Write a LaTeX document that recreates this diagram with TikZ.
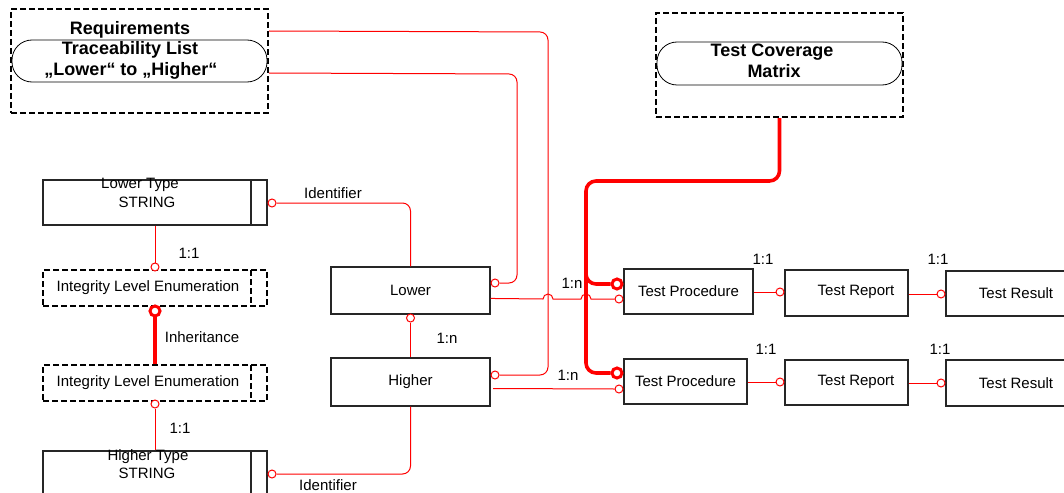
\documentclass[tikz,border=0pt]{standalone}
\usepackage{fontspec}
\setmainfont{Liberation Sans}
\begin{document}
\begin{tikzpicture}[x=1pt,y=-1pt,
  entity/.style={draw=black!85, line width=1.1pt, fill=white, inner sep=0pt},
  dashbox/.style={draw=black, line width=2pt, dash pattern=on 6pt off 3pt, inner sep=0pt},
  pill/.style={draw=black, line width=0.8pt, fill=white, rounded corners=20pt, inner sep=0pt},
  txt/.style={inner sep=0pt, font=\fontsize{15}{18}\selectfont},
  title/.style={inner sep=0pt, font=\fontsize{18}{20}\selectfont\bfseries},
  rel/.style={draw=red, line width=1pt},
  heavyrel/.style={draw=red, line width=3.6pt},
  ocirc/.style={circle, draw=red, line width=1pt, fill=white, minimum size=8pt, inner sep=0pt},
  bigcirc/.style={circle, draw=red, line width=3pt, fill=white, minimum size=10pt, inner sep=0pt}
]
\useasboundingbox (0,0) rectangle (1064,492);
\clip (0,0) rectangle (1064,492);

% ---- document containers ----
\node[dashbox, minimum width=257pt, minimum height=104pt] (req) at (139.5,61) {};
\node[pill, minimum width=255pt, minimum height=42pt] (reqpill) at (139.5,61) {};
\node[title] (reqt1) at (130,30) {Requirements};
\node[title] (reqt2) at (130,49.5) {Traceability List};
\node[title] (reqt3) at (131,71) {„Lower“ to „Higher“};

\node[dashbox, minimum width=247pt, minimum height=104pt] (tcm) at (779.5,65) {};
\node[pill, minimum width=245pt, minimum height=43pt] (tcmpill) at (779.5,63.5) {};
\node[title] (tcmt1) at (772,52) {Test Coverage};
\node[title] (tcmt2) at (774,71) {Matrix};

% ---- type entities ----
\node[entity, minimum width=224pt, minimum height=45pt] (lowertype) at (155,202.5) {};
\draw[line width=1.1pt, black!85] (251,180) -- (251,225);
\node[txt] (ltt1) at (140,185) {Lower Type};
\node[txt] (ltt2) at (147,202) {STRING};

\node[dashbox, minimum width=224pt, minimum height=36pt] (ile1) at (155,288) {};
\draw[dashbox] (251,270) -- (251,306);
\node[txt] (ile1t) at (148,288) {Integrity Level Enumeration};

\node[dashbox, minimum width=224pt, minimum height=36pt] (ile2) at (155,383) {};
\draw[dashbox] (251,365) -- (251,401);
\node[txt] (ile2t) at (148,383) {Integrity Level Enumeration};

\node[entity, minimum width=224pt, minimum height=69pt] (highertype) at (155,485.5) {};
\draw[line width=1.1pt, black!85] (251,451) -- (251,520);
\node[txt] (htt1) at (148,457) {Higher Type};
\node[txt] (htt2) at (147,473) {STRING};

% ---- requirement entities ----
\node[entity, txt, minimum width=159pt, minimum height=47pt] (lower) at (410.5,290.5) {Lower};
\node[entity, txt, minimum width=159pt, minimum height=48pt] (higher) at (410.5,382) {Higher};

% ---- test entities ----
\node[entity, txt, minimum width=129pt, minimum height=45pt] (tp1) at (688.5,291.5) {Test Procedure};
\node[entity, txt, minimum width=123pt, minimum height=45pt] (tp2) at (685.5,381.5) {Test Procedure};
\node[entity, minimum width=123pt, minimum height=46pt] (tr1) at (846.5,293) {};
\node[txt] (tr1t) at (856,292) {Test Report};
\node[entity, minimum width=123pt, minimum height=45pt] (tr2) at (846.5,382.5) {};
\node[txt] (tr2t) at (856,382) {Test Report};
\node[entity, txt, minimum width=134pt, minimum height=45pt] (tres1) at (1013,293.5) {};
\node[txt] (tres1t) at (1016,293) {Test Result};
\node[entity, txt, minimum width=134pt, minimum height=46pt] (tres2) at (1013,383) {};
\node[txt] (tres2t) at (1016,383) {Test Result};

% ---- connectors ----
% identifiers
\node[ocirc] (cLT) at (272,203) {};
\draw[rel, rounded corners=8pt] (cLT.east) -| (lower.north);
\node[ocirc] (cHT) at (272,474) {};
\draw[rel, rounded corners=8pt] (cHT.east) -| (higher.south);

% type to enumeration
\node[ocirc] (cI1) at (155,267) {};
\draw[rel] (lowertype.south) -- (cI1.north);
\node[ocirc] (cI2) at (155,404) {};
\draw[rel] (cI2.south) -- (highertype.north);

% inheritance
\draw[heavyrel] (155,316) -- (ile2.north);
\node[bigcirc] (cInh) at (155,311) {};

% lower to higher
\node[ocirc] (cLo) at (410.5,318) {};
\draw[rel] (cLo.south) -- (higher.north);

% traceability list links
\node[ocirc] (cLoR) at (495,283) {};
\node[ocirc] (cHiR) at (495,375) {};
\draw[rel, rounded corners=8pt] ([yshift=-23pt]req.north east) -- (548,32) -- (548,375) -- (cHiR.east);
\draw[rel, rounded corners=8pt] ([yshift=-65pt]req.north east) -- (517,74) -- (517,283) -- (cLoR.east);

% coverage matrix links
\node[bigcirc] (cTP1a) at (617,284) {};
\node[bigcirc] (cTP2a) at (617,373) {};
\draw[heavyrel, rounded corners=10pt] (tcm.south) -- (779.5,181) -- (586,181) -- (586,284) -- (cTP1a.west);
\draw[heavyrel, rounded corners=10pt] (586,270) -- (586,373) -- (cTP2a.west);

% lower / higher to test procedures
\node[ocirc] (cTP1b) at (619,299) {};
\node[ocirc] (cTP2b) at (619,389) {};
\draw[rel] ([yshift=-32pt]lower.north east) -- (543,299)
  arc[start angle=180, end angle=0, radius=5pt] -- (581,299)
  arc[start angle=180, end angle=0, radius=5pt] -- (cTP1b.west);
\draw[rel] (493,388.5) -- (cTP2b.west);

% test chains
\node[ocirc] (cTR1) at (780,292) {};
\draw[rel] (tp1.east |- cTR1) -- (cTR1.west);
\node[ocirc] (cTR2) at (780,382) {};
\draw[rel] (tp2.east |- cTR2) -- (cTR2.west);
\node[ocirc] (cTS1) at (941,294) {};
\draw[rel] (tr1.east |- cTS1) -- (cTS1.west);
\node[ocirc] (cTS2) at (941,383) {};
\draw[rel] (tr2.east |- cTS2) -- (cTS2.west);

% ---- labels ----
\node[txt] (lid1) at (333,193) {Identifier};
\node[txt] (lid2) at (328,485) {Identifier};
\node[txt] (l11a) at (189,253) {1:1};
\node[txt] (linh) at (202,337) {Inheritance};
\node[txt] (l11b) at (180,428) {1:1};
\node[txt] (l1na) at (447,338) {1:n};
\node[txt] (l1nb) at (572,283) {1:n};
\node[txt] (l1nc) at (568,375) {1:n};
\node[txt] (l11c) at (763,259) {1:1};
\node[txt] (l11d) at (766,349) {1:1};
\node[txt] (l11e) at (938,259) {1:1};
\node[txt] (l11f) at (940,349) {1:1};
\end{tikzpicture}
\end{document}
